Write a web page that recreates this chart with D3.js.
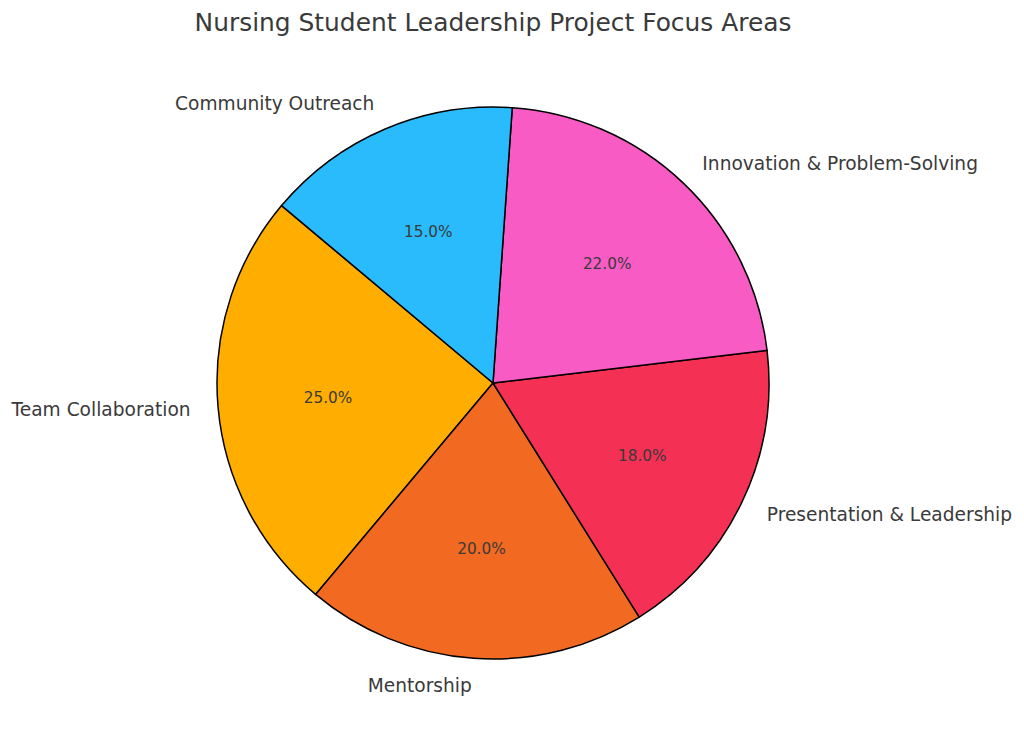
<!DOCTYPE html>
<html>
<head>
<meta charset="utf-8">
<script src="https://cdn.jsdelivr.net/npm/d3@7"></script>
<style>
  body { margin: 0; background: #fff; }
  text { font-family: "DejaVu Sans", sans-serif; fill: #3a3a3a; }
</style>
</head>
<body>
<div id="pie"></div>
<script>
var areas = ["Team Collaboration", "Mentorship", "Presentation & Leadership", "Innovation & Problem-Solving", "Community Outreach"];
var shares = [25, 20, 18, 22, 15];
var sliceColors = ["#ffae00", "#f26a22", "#f43054", "#f95bc5", "#29bbfc"];

var svgWidth = 1024, svgHeight = 740;
var cx = 493, cy = 383, radius = 276;
var startDeg = 140; // matplotlib style start angle, counterclockwise

var svg = d3.select("#pie").append("svg")
  .attr("width", svgWidth)
  .attr("height", svgHeight);

svg.append("text")
  .attr("x", cx)
  .attr("y", 31)
  .attr("text-anchor", "middle")
  .style("font-size", "24.9px")
  .text("Nursing Student Leadership Project Focus Areas");

var pieData = areas.map(function(a, i) { return {label: a, value: shares[i], color: sliceColors[i]}; });

// d3 angles go clockwise from 12 o'clock, so flip the counterclockwise order
var pie = d3.pie()
  .value(function(d) { return d.value; })
  .sort(null)
  .startAngle((90 - startDeg) * Math.PI / 180)
  .endAngle((90 - startDeg - 360) * Math.PI / 180);

var arc = d3.arc().innerRadius(0).outerRadius(radius);

var g = svg.append("g").attr("transform", `translate(${cx}, ${cy})`);

var arcs = pie(pieData);

g.selectAll("path")
  .data(arcs)
  .enter()
  .append("path")
  .attr("d", arc)
  .attr("fill", d => d.data.color)
  .attr("stroke", "#000")
  .attr("stroke-width", 1.5)
  .attr("stroke-linejoin", "round");

function midPoint(d, f) {
  var a = (d.startAngle + d.endAngle) / 2;
  return [Math.sin(a) * radius * f, -Math.cos(a) * radius * f];
}

g.selectAll("text.pct")
  .data(arcs)
  .enter()
  .append("text")
  .attr("class", "pct")
  .attr("x", d => midPoint(d, 0.6)[0])
  .attr("y", d => midPoint(d, 0.6)[1] + 1)
  .attr("text-anchor", "middle")
  .attr("dominant-baseline", "central")
  .style("font-size", "15.3px")
  .text(d => d.data.value.toFixed(1) + "%");

g.selectAll("text.lbl")
  .data(arcs)
  .enter()
  .append("text")
  .attr("class", "lbl")
  .attr("x", d => midPoint(d, 1.1)[0])
  .attr("y", d => midPoint(d, 1.1)[1])
  .attr("text-anchor", d => midPoint(d, 1.1)[0] > 0 ? "start" : "end")
  .attr("dominant-baseline", "central")
  .style("font-size", "18.6px")
  .text(d => d.data.label);
</script>
</body>
</html>
